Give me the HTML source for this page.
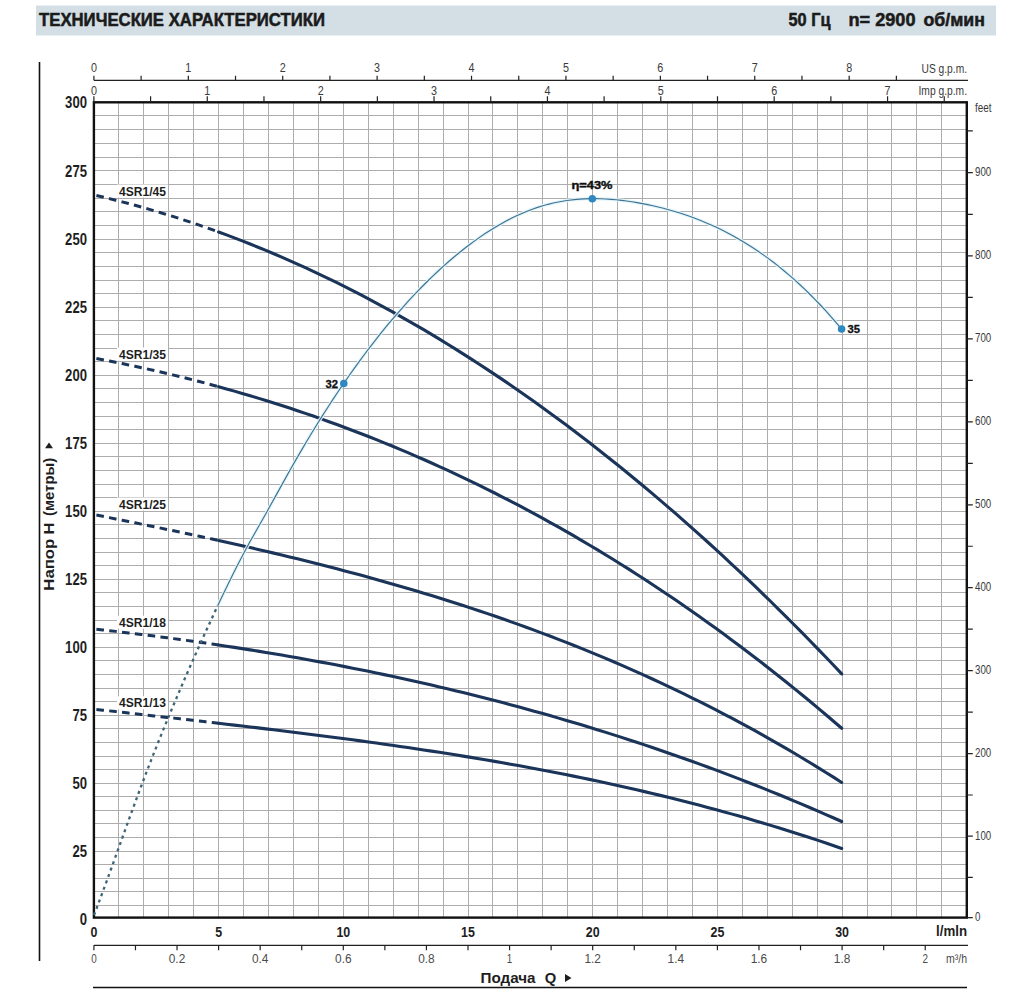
<!DOCTYPE html><html><head><meta charset="utf-8"><style>
html,body{margin:0;padding:0;background:#fff;width:1033px;height:1000px;overflow:hidden}
svg{display:block}
text{font-family:"Liberation Sans", sans-serif}
</style></head><body>
<svg width="1033" height="1000" viewBox="0 0 1033 1000">

<rect x="36" y="5.5" width="960" height="30" fill="#d4dfe5"/>
<text x="39" y="26" font-size="18.5" font-weight="bold" fill="#1b1b1b" stroke="#1b1b1b" stroke-width="0.55" lengthAdjust="spacingAndGlyphs" textLength="286">ТЕХНИЧЕСКИЕ ХАРАКТЕРИСТИКИ</text>
<text x="788.5" y="26" font-size="18.5" font-weight="bold" fill="#1b1b1b" stroke="#1b1b1b" stroke-width="0.55" lengthAdjust="spacingAndGlyphs" textLength="42">50 Гц</text>
<text x="848.5" y="26" font-size="18.5" font-weight="bold" fill="#1b1b1b" stroke="#1b1b1b" stroke-width="0.55" lengthAdjust="spacingAndGlyphs" textLength="67">n= 2900</text>
<text x="923.5" y="26" font-size="18.5" font-weight="bold" fill="#1b1b1b" stroke="#1b1b1b" stroke-width="0.55" lengthAdjust="spacingAndGlyphs" textLength="61.5">об/мин</text>
<line x1="39.5" y1="62" x2="39.5" y2="961" stroke="#111" stroke-width="1.6"/>
<path d="M118.5 102.3V917.6M143.5 102.3V917.6M168.5 102.3V917.6M193.5 102.3V917.6M218.5 102.3V917.6M243.5 102.3V917.6M268.5 102.3V917.6M293.5 102.3V917.6M318.5 102.3V917.6M343.5 102.3V917.6M368.5 102.3V917.6M393.5 102.3V917.6M418.5 102.3V917.6M443.5 102.3V917.6M468.5 102.3V917.6M492.5 102.3V917.6M517.5 102.3V917.6M542.5 102.3V917.6M567.5 102.3V917.6M592.5 102.3V917.6M617.5 102.3V917.6M642.5 102.3V917.6M667.5 102.3V917.6M692.5 102.3V917.6M717.5 102.3V917.6M742.5 102.3V917.6M767.5 102.3V917.6M792.5 102.3V917.6M817.5 102.3V917.6M842.5 102.3V917.6M867.5 102.3V917.6M891.5 102.3V917.6M916.5 102.3V917.6M941.5 102.3V917.6M93.9 905.5H966.8000000000001M93.9 891.5H966.8000000000001M93.9 878.5H966.8000000000001M93.9 864.5H966.8000000000001M93.9 851.5H966.8000000000001M93.9 837.5H966.8000000000001M93.9 823.5H966.8000000000001M93.9 810.5H966.8000000000001M93.9 796.5H966.8000000000001M93.9 783.5H966.8000000000001M93.9 769.5H966.8000000000001M93.9 756.5H966.8000000000001M93.9 742.5H966.8000000000001M93.9 728.5H966.8000000000001M93.9 715.5H966.8000000000001M93.9 701.5H966.8000000000001M93.9 688.5H966.8000000000001M93.9 674.5H966.8000000000001M93.9 660.5H966.8000000000001M93.9 647.5H966.8000000000001M93.9 633.5H966.8000000000001M93.9 620.5H966.8000000000001M93.9 606.5H966.8000000000001M93.9 592.5H966.8000000000001M93.9 579.5H966.8000000000001M93.9 565.5H966.8000000000001M93.9 552.5H966.8000000000001M93.9 538.5H966.8000000000001M93.9 524.5H966.8000000000001M93.9 511.5H966.8000000000001M93.9 497.5H966.8000000000001M93.9 484.5H966.8000000000001M93.9 470.5H966.8000000000001M93.9 456.5H966.8000000000001M93.9 443.5H966.8000000000001M93.9 429.5H966.8000000000001M93.9 416.5H966.8000000000001M93.9 402.5H966.8000000000001M93.9 388.5H966.8000000000001M93.9 375.5H966.8000000000001M93.9 361.5H966.8000000000001M93.9 348.5H966.8000000000001M93.9 334.5H966.8000000000001M93.9 320.5H966.8000000000001M93.9 307.5H966.8000000000001M93.9 293.5H966.8000000000001M93.9 280.5H966.8000000000001M93.9 266.5H966.8000000000001M93.9 252.5H966.8000000000001M93.9 239.5H966.8000000000001M93.9 225.5H966.8000000000001M93.9 211.5H966.8000000000001M93.9 198.5H966.8000000000001M93.9 184.5H966.8000000000001M93.9 170.5H966.8000000000001M93.9 157.5H966.8000000000001M93.9 143.5H966.8000000000001M93.9 129.5H966.8000000000001M93.9 115.5H966.8000000000001" stroke="#adadad" stroke-width="1" fill="none"/>
<rect x="93.9" y="102.3" width="872.90" height="815.30" fill="none" stroke="#111" stroke-width="2.4"/>
<line x1="93.9" y1="80.3" x2="968" y2="80.3" stroke="#222" stroke-width="1.3"/>
<path d="M93.90 80.3V75.8M141.10 80.3V75.8M188.31 80.3V75.8M235.51 80.3V75.8M282.72 80.3V75.8M329.92 80.3V75.8M377.12 80.3V75.8M424.33 80.3V75.8M471.53 80.3V75.8M518.74 80.3V75.8M565.94 80.3V75.8M613.14 80.3V75.8M660.35 80.3V75.8M707.55 80.3V75.8M754.76 80.3V75.8M801.96 80.3V75.8M849.17 80.3V75.8M896.37 80.3V75.8" stroke="#222" stroke-width="1.2"/>
<text x="93.90" y="72" font-size="12" fill="#3a3a3a" text-anchor="middle" lengthAdjust="spacingAndGlyphs" textLength="6">0</text>
<text x="188.31" y="72" font-size="12" fill="#3a3a3a" text-anchor="middle" lengthAdjust="spacingAndGlyphs" textLength="6">1</text>
<text x="282.72" y="72" font-size="12" fill="#3a3a3a" text-anchor="middle" lengthAdjust="spacingAndGlyphs" textLength="6">2</text>
<text x="377.12" y="72" font-size="12" fill="#3a3a3a" text-anchor="middle" lengthAdjust="spacingAndGlyphs" textLength="6">3</text>
<text x="471.53" y="72" font-size="12" fill="#3a3a3a" text-anchor="middle" lengthAdjust="spacingAndGlyphs" textLength="6">4</text>
<text x="565.94" y="72" font-size="12" fill="#3a3a3a" text-anchor="middle" lengthAdjust="spacingAndGlyphs" textLength="6">5</text>
<text x="660.35" y="72" font-size="12" fill="#3a3a3a" text-anchor="middle" lengthAdjust="spacingAndGlyphs" textLength="6">6</text>
<text x="754.76" y="72" font-size="12" fill="#3a3a3a" text-anchor="middle" lengthAdjust="spacingAndGlyphs" textLength="6">7</text>
<text x="849.17" y="72" font-size="12" fill="#3a3a3a" text-anchor="middle" lengthAdjust="spacingAndGlyphs" textLength="6">8</text>
<text x="967" y="73" font-size="12" fill="#3a3a3a" text-anchor="end" textLength="45.5" lengthAdjust="spacingAndGlyphs">US g.p.m.</text>
<path d="M93.90 102.3V96.3M150.59 102.3V96.3M207.28 102.3V96.3M263.97 102.3V96.3M320.66 102.3V96.3M377.35 102.3V96.3M434.04 102.3V96.3M490.73 102.3V96.3M547.42 102.3V96.3M604.11 102.3V96.3M660.80 102.3V96.3M717.49 102.3V96.3M774.18 102.3V96.3M830.87 102.3V96.3M887.56 102.3V96.3M944.25 102.3V96.3" stroke="#222" stroke-width="1.2"/>
<text x="93.90" y="95" font-size="12" fill="#3a3a3a" text-anchor="middle" lengthAdjust="spacingAndGlyphs" textLength="6">0</text>
<text x="207.28" y="95" font-size="12" fill="#3a3a3a" text-anchor="middle" lengthAdjust="spacingAndGlyphs" textLength="6">1</text>
<text x="320.66" y="95" font-size="12" fill="#3a3a3a" text-anchor="middle" lengthAdjust="spacingAndGlyphs" textLength="6">2</text>
<text x="434.04" y="95" font-size="12" fill="#3a3a3a" text-anchor="middle" lengthAdjust="spacingAndGlyphs" textLength="6">3</text>
<text x="547.42" y="95" font-size="12" fill="#3a3a3a" text-anchor="middle" lengthAdjust="spacingAndGlyphs" textLength="6">4</text>
<text x="660.80" y="95" font-size="12" fill="#3a3a3a" text-anchor="middle" lengthAdjust="spacingAndGlyphs" textLength="6">5</text>
<text x="774.18" y="95" font-size="12" fill="#3a3a3a" text-anchor="middle" lengthAdjust="spacingAndGlyphs" textLength="6">6</text>
<text x="887.56" y="95" font-size="12" fill="#3a3a3a" text-anchor="middle" lengthAdjust="spacingAndGlyphs" textLength="6">7</text>
<text x="967" y="95" font-size="12" fill="#3a3a3a" text-anchor="end" textLength="48.5" lengthAdjust="spacingAndGlyphs">Imp g.p.m.</text>
<text x="87" y="925.00" font-size="16.3" font-weight="bold" fill="#1e1e1e" text-anchor="end" textLength="7.3" lengthAdjust="spacingAndGlyphs">0</text>
<text x="87" y="856.92" font-size="16.3" font-weight="bold" fill="#1e1e1e" text-anchor="end" textLength="14.6" lengthAdjust="spacingAndGlyphs">25</text>
<text x="87" y="789.30" font-size="16.3" font-weight="bold" fill="#1e1e1e" text-anchor="end" textLength="14.6" lengthAdjust="spacingAndGlyphs">50</text>
<text x="87" y="721.25" font-size="16.3" font-weight="bold" fill="#1e1e1e" text-anchor="end" textLength="14.6" lengthAdjust="spacingAndGlyphs">75</text>
<text x="87" y="653.20" font-size="16.3" font-weight="bold" fill="#1e1e1e" text-anchor="end" textLength="21.9" lengthAdjust="spacingAndGlyphs">100</text>
<text x="87" y="585.23" font-size="16.3" font-weight="bold" fill="#1e1e1e" text-anchor="end" textLength="21.9" lengthAdjust="spacingAndGlyphs">125</text>
<text x="87" y="517.27" font-size="16.3" font-weight="bold" fill="#1e1e1e" text-anchor="end" textLength="21.9" lengthAdjust="spacingAndGlyphs">150</text>
<text x="87" y="449.30" font-size="16.3" font-weight="bold" fill="#1e1e1e" text-anchor="end" textLength="21.9" lengthAdjust="spacingAndGlyphs">175</text>
<text x="87" y="381.20" font-size="16.3" font-weight="bold" fill="#1e1e1e" text-anchor="end" textLength="21.9" lengthAdjust="spacingAndGlyphs">200</text>
<text x="87" y="313.15" font-size="16.3" font-weight="bold" fill="#1e1e1e" text-anchor="end" textLength="21.9" lengthAdjust="spacingAndGlyphs">225</text>
<text x="87" y="245.10" font-size="16.3" font-weight="bold" fill="#1e1e1e" text-anchor="end" textLength="21.9" lengthAdjust="spacingAndGlyphs">250</text>
<text x="87" y="176.65" font-size="16.3" font-weight="bold" fill="#1e1e1e" text-anchor="end" textLength="21.9" lengthAdjust="spacingAndGlyphs">275</text>
<text x="87" y="108.20" font-size="16.3" font-weight="bold" fill="#1e1e1e" text-anchor="end" textLength="21.9" lengthAdjust="spacingAndGlyphs">300</text>
<path d="M966.80 917.60H972.80M966.80 877.43H972.80M966.80 836.20H972.80M966.80 794.98H972.80M966.80 753.57H972.80M966.80 712.08H972.80M966.80 670.60H972.80M966.80 629.14H972.80M966.80 587.71H972.80M966.80 546.27H972.80M966.80 504.84H972.80M966.80 463.41H972.80M966.80 421.93H972.80M966.80 380.42H972.80M966.80 338.93H972.80M966.80 297.45H972.80M966.80 255.97H972.80M966.80 214.34H972.80M966.80 172.61H972.80M966.80 130.88H972.80" stroke="#222" stroke-width="1.2"/>
<text x="975" y="920.90" font-size="12" fill="#3a3a3a" textLength="5.4" lengthAdjust="spacingAndGlyphs">0</text>
<text x="975" y="839.50" font-size="12" fill="#3a3a3a" textLength="16.2" lengthAdjust="spacingAndGlyphs">100</text>
<text x="975" y="756.87" font-size="12" fill="#3a3a3a" textLength="16.2" lengthAdjust="spacingAndGlyphs">200</text>
<text x="975" y="673.90" font-size="12" fill="#3a3a3a" textLength="16.2" lengthAdjust="spacingAndGlyphs">300</text>
<text x="975" y="591.01" font-size="12" fill="#3a3a3a" textLength="16.2" lengthAdjust="spacingAndGlyphs">400</text>
<text x="975" y="508.14" font-size="12" fill="#3a3a3a" textLength="16.2" lengthAdjust="spacingAndGlyphs">500</text>
<text x="975" y="425.23" font-size="12" fill="#3a3a3a" textLength="16.2" lengthAdjust="spacingAndGlyphs">600</text>
<text x="975" y="342.23" font-size="12" fill="#3a3a3a" textLength="16.2" lengthAdjust="spacingAndGlyphs">700</text>
<text x="975" y="259.27" font-size="12" fill="#3a3a3a" textLength="16.2" lengthAdjust="spacingAndGlyphs">800</text>
<text x="975" y="175.91" font-size="12" fill="#3a3a3a" textLength="16.2" lengthAdjust="spacingAndGlyphs">900</text>
<text x="975" y="112" font-size="12" fill="#3a3a3a" textLength="16.5" lengthAdjust="spacingAndGlyphs">feet</text>
<text x="93.90" y="937.3" font-size="15" font-weight="bold" fill="#1e1e1e" text-anchor="middle" textLength="6.9" lengthAdjust="spacingAndGlyphs">0</text>
<text x="218.60" y="937.3" font-size="15" font-weight="bold" fill="#1e1e1e" text-anchor="middle" textLength="6.9" lengthAdjust="spacingAndGlyphs">5</text>
<text x="343.30" y="937.3" font-size="15" font-weight="bold" fill="#1e1e1e" text-anchor="middle" textLength="13.8" lengthAdjust="spacingAndGlyphs">10</text>
<text x="468.00" y="937.3" font-size="15" font-weight="bold" fill="#1e1e1e" text-anchor="middle" textLength="13.8" lengthAdjust="spacingAndGlyphs">15</text>
<text x="592.70" y="937.3" font-size="15" font-weight="bold" fill="#1e1e1e" text-anchor="middle" textLength="13.8" lengthAdjust="spacingAndGlyphs">20</text>
<text x="717.40" y="937.3" font-size="15" font-weight="bold" fill="#1e1e1e" text-anchor="middle" textLength="13.8" lengthAdjust="spacingAndGlyphs">25</text>
<text x="842.10" y="937.3" font-size="15" font-weight="bold" fill="#1e1e1e" text-anchor="middle" textLength="13.8" lengthAdjust="spacingAndGlyphs">30</text>
<text x="967" y="936" font-size="15" font-weight="bold" fill="#1e1e1e" text-anchor="end" textLength="31" lengthAdjust="spacingAndGlyphs">l/mln</text>
<line x1="93.9" y1="945.3" x2="968" y2="945.3" stroke="#222" stroke-width="1.3"/>
<path d="M93.90 945.3V950.3M135.47 945.3V950.3M177.03 945.3V950.3M218.60 945.3V950.3M260.17 945.3V950.3M301.73 945.3V950.3M343.30 945.3V950.3M384.87 945.3V950.3M426.43 945.3V950.3M468.00 945.3V950.3M509.57 945.3V950.3M551.13 945.3V950.3M592.70 945.3V950.3M634.27 945.3V950.3M675.83 945.3V950.3M717.40 945.3V950.3M758.97 945.3V950.3M800.53 945.3V950.3M842.10 945.3V950.3M883.67 945.3V950.3M925.23 945.3V950.3" stroke="#222" stroke-width="1.2"/>
<text x="93.90" y="962.8" font-size="12" fill="#4a4a4a" text-anchor="middle" textLength="5.5" lengthAdjust="spacingAndGlyphs">0</text>
<text x="177.03" y="962.8" font-size="12" fill="#4a4a4a" text-anchor="middle" textLength="16.5" lengthAdjust="spacingAndGlyphs">0.2</text>
<text x="260.17" y="962.8" font-size="12" fill="#4a4a4a" text-anchor="middle" textLength="16.5" lengthAdjust="spacingAndGlyphs">0.4</text>
<text x="343.30" y="962.8" font-size="12" fill="#4a4a4a" text-anchor="middle" textLength="16.5" lengthAdjust="spacingAndGlyphs">0.6</text>
<text x="426.43" y="962.8" font-size="12" fill="#4a4a4a" text-anchor="middle" textLength="16.5" lengthAdjust="spacingAndGlyphs">0.8</text>
<text x="509.57" y="962.8" font-size="12" fill="#4a4a4a" text-anchor="middle" textLength="5.5" lengthAdjust="spacingAndGlyphs">1</text>
<text x="592.70" y="962.8" font-size="12" fill="#4a4a4a" text-anchor="middle" textLength="16.5" lengthAdjust="spacingAndGlyphs">1.2</text>
<text x="675.83" y="962.8" font-size="12" fill="#4a4a4a" text-anchor="middle" textLength="16.5" lengthAdjust="spacingAndGlyphs">1.4</text>
<text x="758.97" y="962.8" font-size="12" fill="#4a4a4a" text-anchor="middle" textLength="16.5" lengthAdjust="spacingAndGlyphs">1.6</text>
<text x="842.10" y="962.8" font-size="12" fill="#4a4a4a" text-anchor="middle" textLength="16.5" lengthAdjust="spacingAndGlyphs">1.8</text>
<text x="925.23" y="962.8" font-size="12" fill="#4a4a4a" text-anchor="middle" textLength="5.5" lengthAdjust="spacingAndGlyphs">2</text>
<text x="967" y="962.8" font-size="12" fill="#4a4a4a" text-anchor="end" textLength="21" lengthAdjust="spacingAndGlyphs">m³/h</text>
<line x1="93" y1="987.5" x2="967" y2="987.5" stroke="#111" stroke-width="1.5"/>
<text x="480.5" y="983" font-size="15.5" font-weight="bold" fill="#1e1e1e" textLength="55" lengthAdjust="spacingAndGlyphs">Подача</text>
<text x="544.7" y="983" font-size="15.5" font-weight="bold" fill="#1e1e1e" textLength="11.5" lengthAdjust="spacingAndGlyphs">Q</text>
<path d="M565 974L571.5 978L565 982Z" fill="#1e1e1e"/>
<g transform="translate(53.5 590.7) rotate(-90)" font-size="15" font-weight="bold" fill="#1e1e1e"><text x="0" y="0" textLength="52" lengthAdjust="spacingAndGlyphs">Напор</text><text x="56.1" y="0" textLength="12" lengthAdjust="spacingAndGlyphs">H</text><text x="74.8" y="0" textLength="58" lengthAdjust="spacingAndGlyphs">(метры)</text><path d="M142.5 -8.5L148.3 -4.5L142.5 -0.5Z"/></g>
<rect x="117" y="184.5" width="51" height="13" fill="#fff"/>
<rect x="117" y="347.5" width="51" height="13" fill="#fff"/>
<rect x="117" y="497.5" width="51" height="13" fill="#fff"/>
<rect x="117" y="615.7" width="51" height="13" fill="#fff"/>
<rect x="117" y="696.3" width="51" height="13" fill="#fff"/>
<path d="M96.40 195.54 L102.83 197.06 L109.26 198.62 L115.69 200.22 L122.13 201.87 L128.56 203.56 L134.99 205.30 L141.42 207.09 L147.85 208.91 L154.28 210.79 L160.72 212.70 L167.15 214.67 L173.58 216.67 L180.01 218.73 L186.44 220.82 L192.87 222.96 L199.31 225.15 L205.74 227.38 L212.17 229.66 L218.60 231.98" fill="none" stroke="#1b3459" stroke-width="3" stroke-dasharray="7.6 5.3"/>
<path d="M218.60 231.98 L226.49 234.89 L234.37 237.86 L242.26 240.91 L250.15 244.02 L258.04 247.20 L265.92 250.44 L273.81 253.76 L281.70 257.14 L289.59 260.59 L297.47 264.11 L305.36 267.70 L313.25 271.36 L321.14 275.08 L329.02 278.87 L336.91 282.73 L344.80 286.66 L352.68 290.66 L360.57 294.72 L368.46 298.86 L376.35 303.06 L384.23 307.33 L392.12 311.67 L400.01 316.08 L407.90 320.55 L415.78 325.10 L423.67 329.71 L431.56 334.40 L439.45 339.15 L447.33 343.97 L455.22 348.86 L463.11 353.82 L470.99 358.84 L478.88 363.94 L486.77 369.11 L494.66 374.34 L502.54 379.65 L510.43 385.02 L518.32 390.46 L526.21 395.98 L534.09 401.56 L541.98 407.21 L549.87 412.93 L557.76 418.72 L565.64 424.58 L573.53 430.51 L581.42 436.51 L589.31 442.58 L597.19 448.72 L605.08 454.93 L612.97 461.20 L620.85 467.55 L628.74 473.97 L636.63 480.46 L644.52 487.02 L652.40 493.65 L660.29 500.34 L668.18 507.11 L676.07 513.95 L683.95 520.86 L691.84 527.84 L699.73 534.89 L707.62 542.01 L715.50 549.20 L723.39 556.46 L731.28 563.79 L739.16 571.20 L747.05 578.67 L754.94 586.21 L762.83 593.83 L770.71 601.51 L778.60 609.27 L786.49 617.09 L794.38 624.99 L802.26 632.96 L810.15 641.00 L818.04 649.11 L825.93 657.29 L833.81 665.54 L841.70 673.87" fill="none" stroke="#1b3459" stroke-width="3.1" stroke-linecap="round"/>
<path d="M96.40 358.48 L102.83 359.71 L109.26 360.97 L115.69 362.25 L122.13 363.57 L128.56 364.91 L134.99 366.27 L141.42 367.67 L147.85 369.10 L154.28 370.55 L160.72 372.03 L167.15 373.54 L173.58 375.09 L180.01 376.66 L186.44 378.25 L192.87 379.88 L199.31 381.54 L205.74 383.23 L212.17 384.95 L218.60 386.70" fill="none" stroke="#1b3459" stroke-width="3" stroke-dasharray="7.6 5.3"/>
<path d="M218.60 386.70 L226.49 388.89 L234.37 391.12 L242.26 393.41 L250.15 395.73 L258.04 398.11 L265.92 400.53 L273.81 403.00 L281.70 405.52 L289.59 408.09 L297.47 410.71 L305.36 413.37 L313.25 416.09 L321.14 418.86 L329.02 421.67 L336.91 424.54 L344.80 427.46 L352.68 430.43 L360.57 433.45 L368.46 436.52 L376.35 439.64 L384.23 442.82 L392.12 446.05 L400.01 449.33 L407.90 452.67 L415.78 456.06 L423.67 459.51 L431.56 463.01 L439.45 466.56 L447.33 470.17 L455.22 473.84 L463.11 477.56 L470.99 481.33 L478.88 485.17 L486.77 489.06 L494.66 493.01 L502.54 497.01 L510.43 501.08 L518.32 505.20 L526.21 509.38 L534.09 513.61 L541.98 517.91 L549.87 522.27 L557.76 526.69 L565.64 531.16 L573.53 535.70 L581.42 540.30 L589.31 544.96 L597.19 549.68 L605.08 554.46 L612.97 559.30 L620.85 564.21 L628.74 569.18 L636.63 574.21 L644.52 579.31 L652.40 584.47 L660.29 589.69 L668.18 594.98 L676.07 600.33 L683.95 605.75 L691.84 611.23 L699.73 616.78 L707.62 622.39 L715.50 628.08 L723.39 633.82 L731.28 639.64 L739.16 645.52 L747.05 651.47 L754.94 657.49 L762.83 663.57 L770.71 669.72 L778.60 675.95 L786.49 682.24 L794.38 688.60 L802.26 695.03 L810.15 701.54 L818.04 708.11 L825.93 714.75 L833.81 721.47 L841.70 728.25" fill="none" stroke="#1b3459" stroke-width="3.1" stroke-linecap="round"/>
<path d="M96.40 515.06 L102.83 516.34 L109.26 517.62 L115.69 518.91 L122.13 520.21 L128.56 521.51 L134.99 522.81 L141.42 524.13 L147.85 525.45 L154.28 526.77 L160.72 528.11 L167.15 529.45 L173.58 530.80 L180.01 532.15 L186.44 533.52 L192.87 534.90 L199.31 536.28 L205.74 537.67 L212.17 539.08 L218.60 540.49" fill="none" stroke="#1b3459" stroke-width="3" stroke-dasharray="7.6 5.3"/>
<path d="M218.60 540.49 L226.49 542.24 L234.37 544.01 L242.26 545.80 L250.15 547.60 L258.04 549.42 L265.92 551.26 L273.81 553.12 L281.70 555.01 L289.59 556.91 L297.47 558.84 L305.36 560.79 L313.25 562.76 L321.14 564.75 L329.02 566.78 L336.91 568.82 L344.80 570.89 L352.68 572.99 L360.57 575.12 L368.46 577.28 L376.35 579.46 L384.23 581.67 L392.12 583.91 L400.01 586.19 L407.90 588.49 L415.78 590.83 L423.67 593.20 L431.56 595.60 L439.45 598.04 L447.33 600.51 L455.22 603.01 L463.11 605.55 L470.99 608.13 L478.88 610.75 L486.77 613.40 L494.66 616.09 L502.54 618.82 L510.43 621.59 L518.32 624.40 L526.21 627.25 L534.09 630.15 L541.98 633.08 L549.87 636.06 L557.76 639.08 L565.64 642.15 L573.53 645.26 L581.42 648.42 L589.31 651.62 L597.19 654.87 L605.08 658.17 L612.97 661.51 L620.85 664.91 L628.74 668.35 L636.63 671.85 L644.52 675.39 L652.40 678.99 L660.29 682.64 L668.18 686.34 L676.07 690.09 L683.95 693.90 L691.84 697.77 L699.73 701.69 L707.62 705.66 L715.50 709.69 L723.39 713.78 L731.28 717.93 L739.16 722.13 L747.05 726.40 L754.94 730.72 L762.83 735.11 L770.71 739.56 L778.60 744.06 L786.49 748.63 L794.38 753.27 L802.26 757.97 L810.15 762.73 L818.04 767.56 L825.93 772.45 L833.81 777.41 L841.70 782.44" fill="none" stroke="#1b3459" stroke-width="3.1" stroke-linecap="round"/>
<path d="M96.40 629.19 L102.83 629.91 L109.26 630.64 L115.69 631.38 L122.13 632.14 L128.56 632.90 L134.99 633.68 L141.42 634.47 L147.85 635.28 L154.28 636.09 L160.72 636.92 L167.15 637.77 L173.58 638.62 L180.01 639.49 L186.44 640.37 L192.87 641.27 L199.31 642.18 L205.74 643.10 L212.17 644.04 L218.60 644.99" fill="none" stroke="#1b3459" stroke-width="3" stroke-dasharray="7.6 5.3"/>
<path d="M218.60 644.99 L226.49 646.17 L234.37 647.38 L242.26 648.60 L250.15 649.85 L258.04 651.13 L265.92 652.42 L273.81 653.73 L281.70 655.07 L289.59 656.43 L297.47 657.82 L305.36 659.23 L313.25 660.66 L321.14 662.11 L329.02 663.59 L336.91 665.09 L344.80 666.62 L352.68 668.17 L360.57 669.75 L368.46 671.35 L376.35 672.98 L384.23 674.63 L392.12 676.31 L400.01 678.01 L407.90 679.74 L415.78 681.50 L423.67 683.28 L431.56 685.09 L439.45 686.93 L447.33 688.79 L455.22 690.68 L463.11 692.60 L470.99 694.55 L478.88 696.52 L486.77 698.53 L494.66 700.56 L502.54 702.62 L510.43 704.71 L518.32 706.83 L526.21 708.97 L534.09 711.15 L541.98 713.36 L549.87 715.60 L557.76 717.87 L565.64 720.16 L573.53 722.49 L581.42 724.85 L589.31 727.24 L597.19 729.67 L605.08 732.12 L612.97 734.61 L620.85 737.13 L628.74 739.68 L636.63 742.26 L644.52 744.87 L652.40 747.52 L660.29 750.21 L668.18 752.92 L676.07 755.67 L683.95 758.45 L691.84 761.27 L699.73 764.12 L707.62 767.00 L715.50 769.92 L723.39 772.88 L731.28 775.87 L739.16 778.89 L747.05 781.95 L754.94 785.05 L762.83 788.18 L770.71 791.35 L778.60 794.56 L786.49 797.80 L794.38 801.08 L802.26 804.39 L810.15 807.74 L818.04 811.13 L825.93 814.56 L833.81 818.03 L841.70 821.53" fill="none" stroke="#1b3459" stroke-width="3.1" stroke-linecap="round"/>
<path d="M96.40 709.41 L102.83 710.14 L109.26 710.87 L115.69 711.60 L122.13 712.32 L128.56 713.05 L134.99 713.77 L141.42 714.50 L147.85 715.23 L154.28 715.95 L160.72 716.68 L167.15 717.40 L173.58 718.13 L180.01 718.86 L186.44 719.59 L192.87 720.33 L199.31 721.06 L205.74 721.80 L212.17 722.54 L218.60 723.28" fill="none" stroke="#1b3459" stroke-width="3" stroke-dasharray="7.6 5.3"/>
<path d="M218.60 723.28 L226.49 724.19 L234.37 725.11 L242.26 726.04 L250.15 726.97 L258.04 727.91 L265.92 728.85 L273.81 729.80 L281.70 730.76 L289.59 731.73 L297.47 732.71 L305.36 733.69 L313.25 734.69 L321.14 735.70 L329.02 736.71 L336.91 737.74 L344.80 738.78 L352.68 739.83 L360.57 740.90 L368.46 741.98 L376.35 743.07 L384.23 744.17 L392.12 745.29 L400.01 746.43 L407.90 747.58 L415.78 748.74 L423.67 749.93 L431.56 751.13 L439.45 752.34 L447.33 753.58 L455.22 754.83 L463.11 756.10 L470.99 757.39 L478.88 758.71 L486.77 760.04 L494.66 761.39 L502.54 762.76 L510.43 764.16 L518.32 765.57 L526.21 767.01 L534.09 768.47 L541.98 769.96 L549.87 771.47 L557.76 773.00 L565.64 774.56 L573.53 776.14 L581.42 777.75 L589.31 779.39 L597.19 781.05 L605.08 782.74 L612.97 784.46 L620.85 786.21 L628.74 787.98 L636.63 789.79 L644.52 791.62 L652.40 793.48 L660.29 795.38 L668.18 797.30 L676.07 799.26 L683.95 801.25 L691.84 803.27 L699.73 805.32 L707.62 807.41 L715.50 809.53 L723.39 811.69 L731.28 813.88 L739.16 816.10 L747.05 818.36 L754.94 820.66 L762.83 823.00 L770.71 825.37 L778.60 827.78 L786.49 830.22 L794.38 832.71 L802.26 835.24 L810.15 837.80 L818.04 840.40 L825.93 843.05 L833.81 845.74 L841.70 848.46" fill="none" stroke="#1b3459" stroke-width="3.1" stroke-linecap="round"/>
<text x="119" y="195.5" font-size="13" font-weight="bold" fill="#1e1e1e" textLength="47" lengthAdjust="spacingAndGlyphs">4SR1/45</text>
<text x="119" y="358.5" font-size="13" font-weight="bold" fill="#1e1e1e" textLength="47" lengthAdjust="spacingAndGlyphs">4SR1/35</text>
<text x="119" y="508.5" font-size="13" font-weight="bold" fill="#1e1e1e" textLength="47" lengthAdjust="spacingAndGlyphs">4SR1/25</text>
<text x="119" y="626.7" font-size="13" font-weight="bold" fill="#1e1e1e" textLength="47" lengthAdjust="spacingAndGlyphs">4SR1/18</text>
<text x="119" y="707.3" font-size="13" font-weight="bold" fill="#1e1e1e" textLength="47" lengthAdjust="spacingAndGlyphs">4SR1/13</text>
<path d="M94.00 915.14 L97.17 906.76 L100.35 898.28 L103.52 889.70 L106.70 881.04 L109.87 872.32 L113.05 863.55 L116.22 854.74 L119.39 845.92 L122.57 837.10 L125.74 828.30 L128.92 819.52 L132.09 810.79 L135.27 802.12 L138.44 793.52 L141.62 785.01 L144.79 776.61 L147.96 768.32 L151.14 760.14 L154.31 752.06 L157.49 744.07 L160.66 736.18 L163.84 728.37 L167.01 720.65 L170.18 713.01 L173.36 705.44 L176.53 697.94 L179.71 690.50 L182.88 683.13 L186.06 675.81 L189.23 668.55 L192.41 661.34 L195.58 654.18 L198.75 647.07 L201.93 640.02 L205.10 633.02 L208.28 626.08 L211.45 619.19 L214.63 612.35 L217.80 605.57" fill="none" stroke="#3e6478" stroke-width="2.3" stroke-dasharray="3 3.8"/>
<path d="M217.80 605.57 L223.04 594.50 L228.28 583.64 L233.53 573.02 L238.77 562.71 L244.01 552.74 L249.25 543.10 L254.49 533.70 L259.74 524.43 L264.98 515.18 L270.22 505.84 L275.46 496.38 L280.70 486.87 L285.95 477.40 L291.19 468.05 L296.43 458.87 L301.67 449.86 L306.91 441.00 L312.16 432.31 L317.40 423.79 L322.64 415.42 L327.88 407.22 L333.12 399.18 L338.37 391.29 L343.61 383.57 L348.85 376.01 L354.09 368.61 L359.33 361.36 L364.58 354.27 L369.82 347.34 L375.06 340.57 L380.30 333.95 L385.54 327.48 L390.79 321.17 L396.03 315.02 L401.27 309.01 L406.51 303.16 L411.75 297.46 L417.00 291.92 L422.24 286.52 L427.48 281.27 L432.72 276.18 L437.96 271.23 L443.21 266.43 L448.45 261.78 L453.69 257.28 L458.93 252.94 L464.17 248.75 L469.42 244.71 L474.66 240.84 L479.90 237.12 L485.14 233.57 L490.38 230.19 L495.63 226.96 L500.87 223.91 L506.11 221.03 L511.35 218.32 L516.59 215.78 L521.84 213.42 L527.08 211.24 L532.32 209.24 L537.56 207.42 L542.81 205.78 L548.05 204.32 L553.29 203.05 L558.53 201.95 L563.77 201.01 L569.02 200.24 L574.26 199.63 L579.50 199.17 L584.74 198.86 L589.98 198.69 L595.23 198.66 L600.47 198.76 L605.71 198.98 L610.95 199.32 L616.19 199.78 L621.44 200.35 L626.68 201.02 L631.92 201.80 L637.16 202.66 L642.40 203.62 L647.65 204.66 L652.89 205.78 L658.13 207.00 L663.37 208.30 L668.61 209.70 L673.86 211.20 L679.10 212.80 L684.34 214.51 L689.58 216.32 L694.82 218.24 L700.07 220.27 L705.31 222.42 L710.55 224.69 L715.79 227.08 L721.03 229.60 L726.28 232.25 L731.52 235.02 L736.76 237.93 L742.00 240.98 L747.24 244.17 L752.49 247.50 L757.73 250.98 L762.97 254.61 L768.21 258.39 L773.45 262.33 L778.70 266.42 L783.94 270.68 L789.18 275.10 L794.42 279.69 L799.66 284.46 L804.91 289.39 L810.15 294.50 L815.39 299.79 L820.63 305.27 L825.87 310.93 L831.12 316.78 L836.36 322.82 L841.60 329.06" fill="none" stroke="#e2f4fa" stroke-width="3.5" opacity="0.9"/>
<path d="M217.80 605.57 L223.04 594.50 L228.28 583.64 L233.53 573.02 L238.77 562.71 L244.01 552.74 L249.25 543.10 L254.49 533.70 L259.74 524.43 L264.98 515.18 L270.22 505.84 L275.46 496.38 L280.70 486.87 L285.95 477.40 L291.19 468.05 L296.43 458.87 L301.67 449.86 L306.91 441.00 L312.16 432.31 L317.40 423.79 L322.64 415.42 L327.88 407.22 L333.12 399.18 L338.37 391.29 L343.61 383.57 L348.85 376.01 L354.09 368.61 L359.33 361.36 L364.58 354.27 L369.82 347.34 L375.06 340.57 L380.30 333.95 L385.54 327.48 L390.79 321.17 L396.03 315.02 L401.27 309.01 L406.51 303.16 L411.75 297.46 L417.00 291.92 L422.24 286.52 L427.48 281.27 L432.72 276.18 L437.96 271.23 L443.21 266.43 L448.45 261.78 L453.69 257.28 L458.93 252.94 L464.17 248.75 L469.42 244.71 L474.66 240.84 L479.90 237.12 L485.14 233.57 L490.38 230.19 L495.63 226.96 L500.87 223.91 L506.11 221.03 L511.35 218.32 L516.59 215.78 L521.84 213.42 L527.08 211.24 L532.32 209.24 L537.56 207.42 L542.81 205.78 L548.05 204.32 L553.29 203.05 L558.53 201.95 L563.77 201.01 L569.02 200.24 L574.26 199.63 L579.50 199.17 L584.74 198.86 L589.98 198.69 L595.23 198.66 L600.47 198.76 L605.71 198.98 L610.95 199.32 L616.19 199.78 L621.44 200.35 L626.68 201.02 L631.92 201.80 L637.16 202.66 L642.40 203.62 L647.65 204.66 L652.89 205.78 L658.13 207.00 L663.37 208.30 L668.61 209.70 L673.86 211.20 L679.10 212.80 L684.34 214.51 L689.58 216.32 L694.82 218.24 L700.07 220.27 L705.31 222.42 L710.55 224.69 L715.79 227.08 L721.03 229.60 L726.28 232.25 L731.52 235.02 L736.76 237.93 L742.00 240.98 L747.24 244.17 L752.49 247.50 L757.73 250.98 L762.97 254.61 L768.21 258.39 L773.45 262.33 L778.70 266.42 L783.94 270.68 L789.18 275.10 L794.42 279.69 L799.66 284.46 L804.91 289.39 L810.15 294.50 L815.39 299.79 L820.63 305.27 L825.87 310.93 L831.12 316.78 L836.36 322.82 L841.60 329.06" fill="none" stroke="#3d7392" stroke-width="1.15"/>
<circle cx="343.8" cy="383.5" r="3.8" fill="#2f88c0"/>
<circle cx="592.3" cy="198.7" r="3.8" fill="#2f88c0"/>
<circle cx="841.6" cy="329" r="3.8" fill="#2f88c0"/>
<text x="338" y="387.8" font-size="10.5" font-weight="bold" fill="#111" stroke="#111" stroke-width="0.3" text-anchor="end" textLength="12.5" lengthAdjust="spacingAndGlyphs">32</text>
<text x="847.5" y="333.3" font-size="10.5" font-weight="bold" fill="#111" stroke="#111" stroke-width="0.3" textLength="12.5" lengthAdjust="spacingAndGlyphs">35</text>
<text x="571.5" y="189.3" font-size="11.5" font-weight="bold" fill="#111" stroke="#111" stroke-width="0.4" textLength="41" lengthAdjust="spacingAndGlyphs">η=43%</text>
</svg></body></html>
